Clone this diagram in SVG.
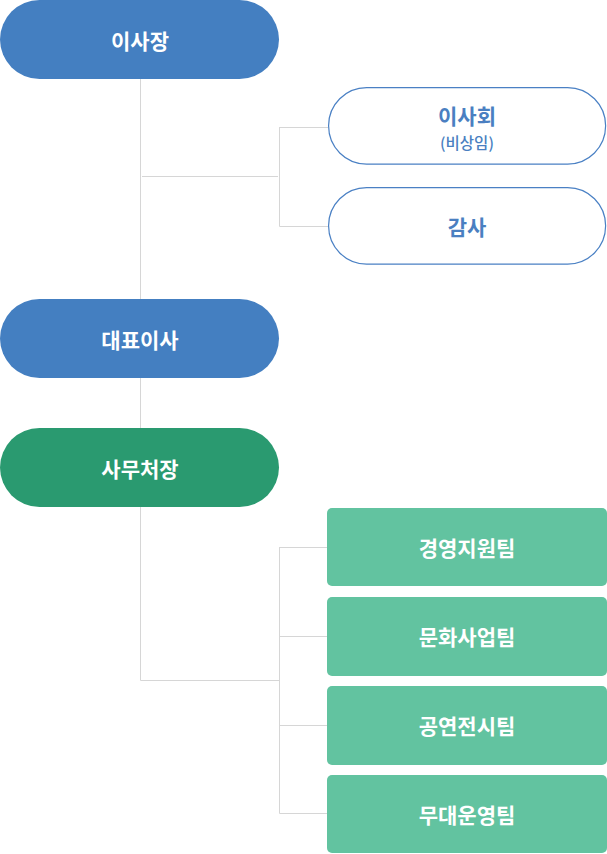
<svg xmlns="http://www.w3.org/2000/svg" width="607" height="854" viewBox="0 0 607 854">
<style>
.t{font-family:"Noto Sans CJK KR","Noto Sans",sans-serif;font-weight:700;font-size:21px;text-anchor:middle;dominant-baseline:central}
.w{fill:#ffffff}
.b{fill:#4a7fc1}
.s{font-size:15.5px;font-weight:500}
.blue{fill:#447fc1}
.dg{fill:#2a9a70}
.lg{fill:#62c3a0}
.ob{fill:#ffffff;stroke:#4a80c4;stroke-width:1.2}
.ln{stroke:#d6d6d6;stroke-width:1;fill:none}
</style>
<g id="connectors">
<path class="ln" d="M140.5 79V299M140.5 378V428M140.5 507V680.5H279.5"/>
<path class="ln" d="M142 176.5H278M279.5 127V226.5M279.5 127.5H328M279.5 226.5H328"/>
<path class="ln" d="M279.5 547V813.5M279.5 547.5H327M279.5 636.5H327M279.5 725.5H327M279.5 813.5H327"/>
</g>
<g id="n1"><rect class="blue" x="0" y="0" width="279" height="79" rx="39.5"/><text class="t w" x="140" y="40">이사장</text></g>
<g id="n2"><rect class="ob" x="328.6" y="87.6" width="277" height="76.5" rx="38"/><text class="t b" x="467" y="115">이사회</text><text class="t b s" x="467" y="142">(비상임)</text></g>
<g id="n3"><rect class="ob" x="328.6" y="187.6" width="277" height="76.5" rx="38"/><text class="t b" x="467" y="226">감사</text></g>
<g id="n4"><rect class="blue" x="0" y="299" width="279" height="79" rx="39.5"/><text class="t w" x="140" y="339">대표이사</text></g>
<g id="n5"><rect class="dg" x="0" y="428" width="279" height="79" rx="39.5"/><text class="t w" x="140" y="468">사무처장</text></g>
<g id="n6"><rect class="lg" x="327" y="508" width="280" height="78" rx="5"/><text class="t w" x="467" y="547">경영지원팀</text></g>
<g id="n7"><rect class="lg" x="327" y="597" width="280" height="79" rx="5"/><text class="t w" x="467" y="636">문화사업팀</text></g>
<g id="n8"><rect class="lg" x="327" y="686" width="280" height="79" rx="5"/><text class="t w" x="467" y="725">공연전시팀</text></g>
<g id="n9"><rect class="lg" x="327" y="775" width="280" height="78" rx="5"/><text class="t w" x="467" y="814">무대운영팀</text></g>
</svg>
